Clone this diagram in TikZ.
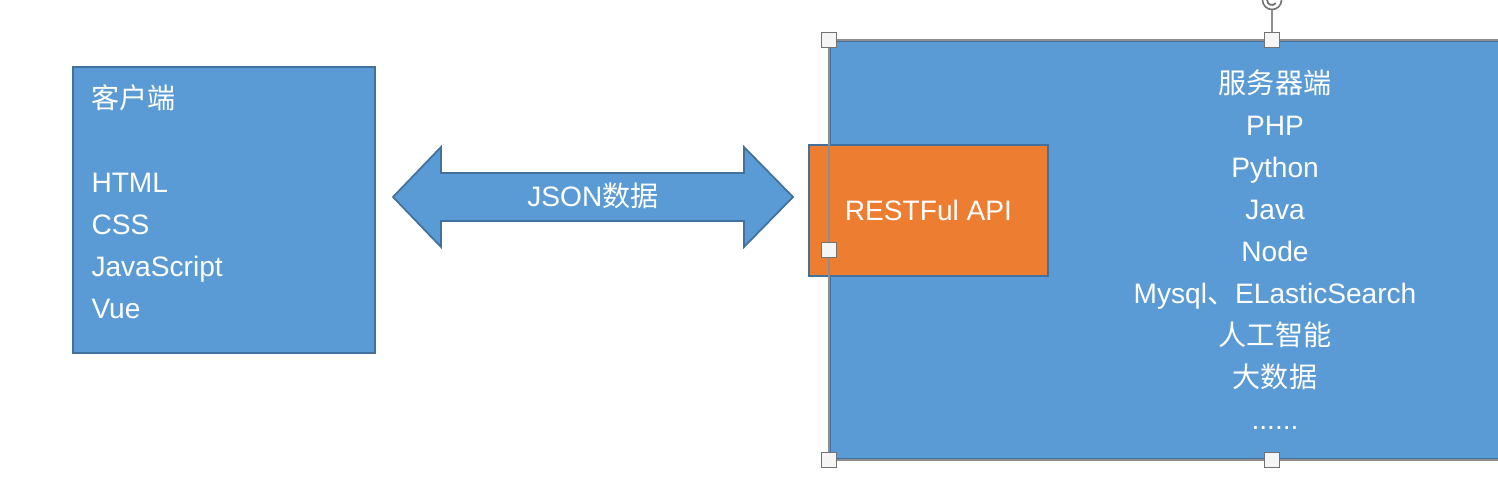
\documentclass[tikz,border=0pt]{standalone}
\usepackage{fontspec}
\setmainfont{Liberation Sans}
\newfontfamily\cjk{Noto Sans CJK SC}
\usetikzlibrary{positioning, shadows}
\usepackage{xcolor}
\definecolor{officeblue}{HTML}{5B9BD5}
\definecolor{officeedge}{HTML}{41719C}
\definecolor{officeorange}{HTML}{ED7D31}
\definecolor{selgray}{HTML}{8E8E8E}

\begin{document}
\begin{tikzpicture}[x=0.02cm, y=-0.02cm,
		every node/.style={font=\fontsize{16}{23.9}\selectfont, text=white},
		box/.style={draw=officeedge, line width=1pt, fill=officeblue, inner sep=0},
		handle/.style={draw=selgray!80!black, fill=gray!8, line width=0.6pt, minimum size=0.29cm, inner sep=0,
			drop shadow={shadow xshift=0.5pt, shadow yshift=-0.5pt, opacity=0.35}},
		selection/.style={draw=selgray, line width=1.1pt}]
				\useasboundingbox (0,0) rectangle (1498,480);
				\clip (0,0) rectangle (1498,480);

				% client side
				\node[box, minimum width=6.04cm, minimum height=5.72cm] (client) at (224,210) {};
				\node[anchor=west, align=left, inner sep=0] (clienttext) at ([xshift=0.38cm, yshift=0.16cm]client.west)
					{{\cjk 客户端}\\ \\ HTML\\ CSS\\ JavaScript\\ Vue};

				% server side
				\node[box, minimum width=17.68cm, minimum height=8.36cm] (server) at (1272,250) {};
				\node[align=center, inner sep=0] (servertext) at ([xshift=0.06cm]server.center)
					{{\cjk 服务器端}\\ PHP\\ Python\\ Java\\ Node\\ Mysql{\cjk 、}ELasticSearch\\ {\cjk 人工智能}\\ {\cjk 大数据}\\ ......};
				\node[box, fill=officeorange, minimum width=4.78cm, minimum height=2.62cm] (api) at (928.5,210.5) {};
				\node (apitext) at (api.center) {RESTFul API};

				% data exchange
				\draw[officeedge, line width=1pt, fill=officeblue, line join=miter]
					(393,197) -- (441,147) -- (441,173) -- (744,173) -- (744,147) -- (793,197)
					-- (744,247) -- (744,221) -- (441,221) -- (441,247) -- cycle;
				\node (json) at (593,196) {JSON{\cjk 数据}};

				% selection frame
				\draw[selection] (server.north east) -- (server.north west) -- (server.south west) -- (server.south east);
				\node[circle, draw=selgray!80!black, fill=white, line width=0.9pt, minimum size=0.38cm, inner sep=0] (rot) at (1272,0) {};
				\draw[selgray, line width=1pt] (rot.south) -- (server.north);
				\draw[selgray!80!black, line width=1pt] ([shift={(40:0.1cm)}]rot.center) arc[start angle=40, end angle=320, radius=0.1cm];
				\node[handle] (h1) at (server.north west) {};
				\node[handle] (h2) at (server.north) {};
				\node[handle] (h3) at (server.west) {};
				\node[handle] (h4) at (server.south west) {};
				\node[handle] (h5) at (server.south) {};
			\end{tikzpicture}
\end{document}
